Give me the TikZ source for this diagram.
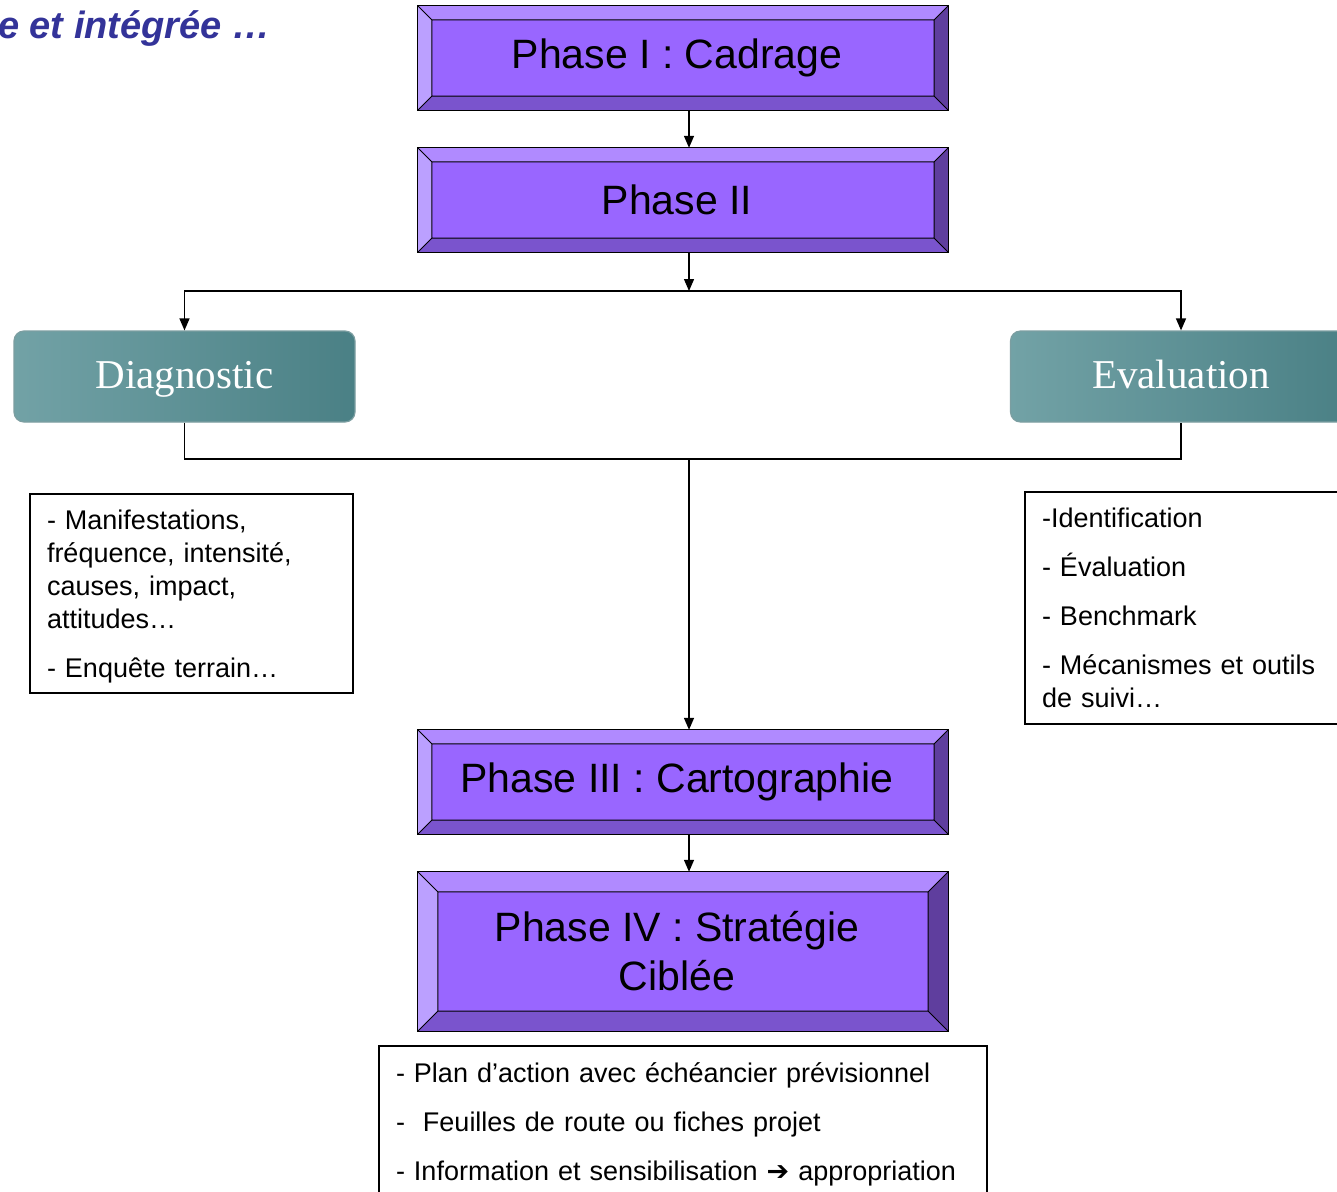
\documentclass[tikz,border=0pt]{standalone}
\usepackage{fontspec}
\setmainfont{Liberation Sans}
\newfontfamily\boxserif{Liberation Serif}
\newfontfamily\dingfont{DejaVu Sans}
\usepackage{tikz}
\usetikzlibrary{arrows.meta,calc,positioning}
\definecolor{phasemain}{HTML}{9966FF}
\definecolor{bvtop}{HTML}{B08AFF}
\definecolor{bvleft}{HTML}{BBA0FF}
\definecolor{bvbottom}{HTML}{7A54CD}
\definecolor{bvright}{HTML}{5F3E9E}
\definecolor{tealA}{HTML}{72A2A6}
\definecolor{tealB}{HTML}{4A8085}
\definecolor{tealedge}{HTML}{7C9EA1}
\definecolor{titleblue}{HTML}{333399}

% bevelled frame round a phase node: #1 node, #2 bevel depth
\newcommand{\bevelbox}[2]{%
  \path (#1.north west) coordinate (nw) ++(#2,-#2) coordinate (inw)
        (#1.north east) coordinate (ne) ++(-#2,-#2) coordinate (ine)
        (#1.south east) coordinate (se) ++(-#2,#2) coordinate (ise)
        (#1.south west) coordinate (sw) ++(#2,#2) coordinate (isw);
  \fill[bvtop] (nw) -- (ne) -- (ine) -- (inw) -- cycle;
  \fill[bvright] (ne) -- (se) -- (ise) -- (ine) -- cycle;
  \fill[bvbottom] (se) -- (sw) -- (isw) -- (ise) -- cycle;
  \fill[bvleft] (sw) -- (nw) -- (inw) -- (isw) -- cycle;
  \draw[line width=1pt] (nw) -- (inw) (ne) -- (ine) (se) -- (ise) (sw) -- (isw) (inw) rectangle (ise);
  \draw[line width=1.3pt] (nw) rectangle (se);
}

\begin{document}
\begin{tikzpicture}[x=1pt,y=1pt,
  phase/.style={fill=phasemain, minimum width=530pt, minimum height=104pt, inner sep=0pt,
    align=center, font=\fontsize{41}{49}\selectfont},
  stage/.style={rounded corners=10pt, left color=tealA, right color=tealB, draw=tealedge, line width=1.2pt,
    minimum width=341pt, minimum height=91pt, text height=32pt, text depth=9pt, text=white,
    font=\boxserif\fontsize{41}{49}\selectfont},
  notes/.style={draw, line width=1.2pt, inner xsep=17pt, inner ysep=0pt, align=left,
    font=\fontsize{27}{33}\selectfont},
  arr/.style={line width=1.4pt, -{Triangle[length=12pt,width=10pt]}},
  link/.style={line width=1.4pt}]
\useasboundingbox (0,0) rectangle (1337,-1191);
\clip (0,0) rectangle (1337,-1191);
\fill[white] (0,0) rectangle (1337,-1191);

\node[anchor=base east, text=titleblue, font=\bfseries\itshape\fontsize{38}{44}\selectfont] (title) at (274,-38) {e et intégrée …};

% phases
\node[phase] (p1) at (683,-58) {Phase I : Cadrage\hspace*{12pt}};
\bevelbox{p1}{14}
\node[phase] (p2) at (683,-200) {Phase II\hspace*{12pt}};
\bevelbox{p2}{14}
\node[phase] (p3) at (683,-782) {Phase III : Cartographie\hspace*{12pt}};
\bevelbox{p3}{14}
\node[phase, minimum height=159pt] (p4) at (683,-951.5) {Phase IV : Stratégie\hspace*{12pt}\\Ciblée\hspace*{12pt}};
\bevelbox{p4}{20}

% diagnostic / evaluation
\node[stage] (diag) at (184.5,-376.5) {Diagnostic};
\node[stage] (eval) at (1181,-376.5) {Evaluation};

% notes
\node[notes, text width=289pt, minimum height=199pt] (diagnotes) at (191.5,-593.5)
  {\rule{0pt}{26pt}- Manifestations,\\fréquence, intensité,\\causes, impact,\\attitudes…\\[16pt]- Enquête terrain…};
\node[notes, text width=291pt, minimum height=232pt] (evalnotes) at (1187.5,-608)
  {-Identification\\[16pt]- Évaluation\\[16pt]- Benchmark\\[16pt]- Mécanismes et outils\\de suivi…};
\node[notes, text width=574pt, minimum height=156pt] (stratnotes) at (683,-1124)
  {- Plan d’action avec échéancier prévisionnel\\[16pt]-~~Feuilles de route ou fiches projet\\[16pt]- Information et sensibilisation {\dingfont ➔} appropriation};

% connectors
\coordinate (spine) at (689,0);
\coordinate (split) at (689,-291);
\coordinate (join) at (689,-459);
\draw[arr] (p1.south -| spine) -- (p2.north -| spine);
\draw[arr] (p2.south -| spine) -- (split);
\draw[arr] (split) -| (diag.north);
\draw[arr] (split) -| (eval.north);
\draw[link] (diag.south) |- (join) -| (eval.south);
\draw[arr] (join) -- (p3.north -| join);
\draw[arr] (p3.south -| spine) -- (p4.north -| spine);
\end{tikzpicture}
\end{document}
